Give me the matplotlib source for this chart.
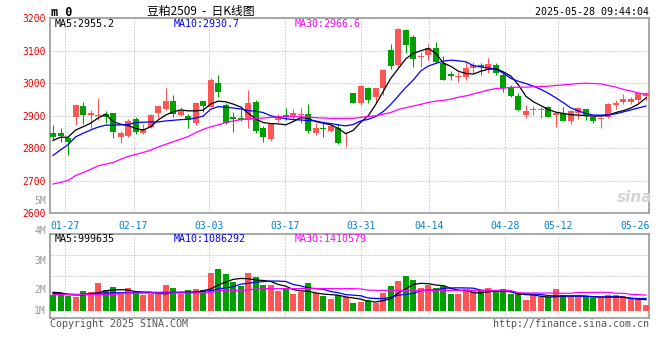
import matplotlib
matplotlib.use('Agg')
import matplotlib.pyplot as plt
import numpy as np

# daily candles, 2025-01-23 .. 2025-05-28
opens = [2847, 2846, 2833, 2897, 2930, 2902, 2898, 2904, 2907, 2836,
         2838, 2889, 2848, 2864, 2907, 2921, 2945, 2902, 2898, 2879,
         2946, 2928, 3002, 2933, 2897, 2894, 2887, 2943, 2863, 2829,
         2887, 2902, 2899, 2902, 2904, 2846, 2861, 2854, 2861, 2827,
         2971, 2938, 2984, 2959, 2984, 3102, 3056, 3164, 3143, 3082,
         3087, 3107, 3063, 3028, 3020, 3020, 3048, 3055, 3041, 3056,
         3025, 2986, 2961, 2902, 2917, 2918, 2926, 2902, 2909, 2885,
         2907, 2920, 2897, 2889, 2895, 2934, 2942, 2942, 2948, 2961]
highs = [2871, 2862, 2834, 2935, 2942, 2918, 2955, 2914, 2907, 2854,
         2891, 2897, 2875, 2905, 2930, 2984, 2964, 2926, 2905, 2943,
         2946, 3017, 3025, 2938, 2913, 2920, 2979, 2948, 2869, 2879,
         2904, 2925, 2920, 2923, 2936, 2877, 2877, 2879, 2875, 2846,
         2971, 2995, 2989, 2986, 3043, 3121, 3169, 3166, 3148, 3097,
         3121, 3128, 3084, 3038, 3036, 3066, 3066, 3063, 3077, 3061,
         3036, 2994, 2969, 2933, 2930, 2926, 2930, 2913, 2926, 2918,
         2926, 2922, 2899, 2897, 2938, 2948, 2967, 2959, 2971, 2973]
lows = [2824, 2820, 2779, 2872, 2875, 2859, 2887, 2879, 2833, 2817,
        2836, 2843, 2844, 2861, 2892, 2918, 2897, 2899, 2863, 2871,
        2912, 2926, 2959, 2876, 2851, 2884, 2861, 2848, 2820, 2823,
        2882, 2887, 2887, 2879, 2848, 2841, 2834, 2851, 2813, 2805,
        2938, 2933, 2938, 2943, 2964, 3043, 3053, 3092, 3051, 3051,
        3071, 3061, 3010, 3010, 3005, 3010, 3030, 3025, 3033, 3025,
        2974, 2959, 2916, 2892, 2902, 2894, 2895, 2864, 2885, 2875,
        2889, 2887, 2879, 2861, 2892, 2920, 2936, 2936, 2940, 2948]
closes = [2835, 2838, 2820, 2933, 2901, 2908, 2899, 2897, 2851, 2846,
          2884, 2849, 2858, 2902, 2929, 2945, 2905, 2914, 2887, 2940,
          2930, 3010, 2974, 2879, 2891, 2887, 2940, 2854, 2836, 2875,
          2899, 2895, 2907, 2904, 2854, 2863, 2858, 2869, 2817, 2830,
          2940, 2993, 2948, 2984, 3041, 3053, 3167, 3118, 3074, 3085,
          3107, 3066, 3010, 3022, 3022, 3046, 3056, 3049, 3059, 3030,
          2984, 2961, 2918, 2916, 2919, 2922, 2897, 2909, 2885, 2916,
          2923, 2899, 2885, 2891, 2936, 2940, 2951, 2952, 2969, 2969]

ma5 = [2824, 2834, 2834, 2856, 2866, 2877, 2893, 2905, 2882, 2874,
       2870, 2861, 2856, 2866, 2887, 2902, 2912, 2918, 2915, 2915,
       2917, 2936, 2945, 2943, 2936, 2927, 2908, 2890, 2879, 2876,
       2875, 2872, 2882, 2894, 2892, 2882, 2877, 2872, 2861, 2845,
       2855, 2880, 2900, 2935, 2975, 3015, 3045, 3075, 3092, 3100,
       3107, 3092, 3062, 3052, 3037, 3030, 3028, 3037, 3043, 3045,
       3035, 3022, 2995, 2960, 2943, 2931, 2919, 2911, 2907, 2903,
       2902, 2900, 2899, 2899, 2902, 2910, 2916, 2924, 2936, 2955]
ma10 = [2778, 2795, 2811, 2835, 2846, 2856, 2865, 2871, 2871, 2872,
        2873, 2879, 2880, 2881, 2881, 2884, 2886, 2888, 2889, 2893,
        2899, 2920, 2928, 2926, 2924, 2921, 2916, 2914, 2910, 2900,
        2895, 2891, 2888, 2887, 2885, 2884, 2879, 2876, 2872, 2869,
        2873, 2884, 2889, 2898, 2913, 2935, 2961, 2987, 3010, 3038,
        3053, 3061, 3068, 3071, 3069, 3066, 3054, 3050, 3047, 3043,
        3031, 3015, 3006, 2999, 2991, 2981, 2969, 2955, 2940, 2924,
        2915, 2907, 2902, 2902, 2903, 2906, 2912, 2918, 2924, 2930]
ma30 = [2690, 2695, 2701, 2716, 2725, 2735, 2746, 2751, 2756, 2766,
        2775, 2781, 2787, 2794, 2804, 2812, 2820, 2828, 2836, 2848,
        2858, 2866, 2872, 2879, 2884, 2888, 2890, 2892, 2893, 2895,
        2896, 2897, 2897, 2897, 2896, 2894, 2893, 2892, 2892, 2892,
        2892, 2895, 2898, 2900, 2905, 2910, 2919, 2925, 2930, 2935,
        2941, 2945, 2947, 2951, 2957, 2961, 2967, 2973, 2979, 2984,
        2985, 2987, 2988, 2988, 2989, 2990, 2991, 2993, 2995, 2997,
        2999, 3000, 2999, 2998, 2993, 2988, 2981, 2976, 2970, 2966]

# volume, millions
volume = [1.42, 1.42, 1.33, 1.27, 1.77, 1.71, 2.50, 1.86, 2.15, 1.57,
          2.06, 1.57, 1.42, 1.53, 1.53, 2.27, 2.00, 1.53, 1.83, 1.92,
          1.83, 3.36, 3.69, 3.24, 2.54, 2.18, 3.33, 2.98, 2.27, 2.27,
          1.77, 2.00, 1.47, 1.65, 2.45, 1.56, 1.30, 1.03, 1.39, 1.21,
          0.68, 0.77, 0.94, 0.68, 1.56, 2.18, 2.63, 3.07, 2.71, 2.00,
          2.27, 2.00, 2.24, 1.47, 1.47, 1.92, 1.74, 1.83, 2.00, 1.83,
          1.92, 1.47, 1.56, 0.94, 1.39, 1.21, 1.21, 1.92, 1.42, 1.33,
          1.33, 1.33, 1.18, 1.18, 1.42, 1.42, 1.33, 1.18, 1.18, 0.53]
vma5 = [1.65, 1.62, 1.45, 1.42, 1.42, 1.55, 1.60, 1.80, 1.86, 1.89,
        1.85, 1.72, 1.68, 1.66, 1.55, 1.52, 1.62, 1.66, 1.65, 1.66,
        1.80, 1.95, 2.30, 2.55, 2.80, 2.88, 2.86, 2.75, 2.70, 2.62,
        2.35, 2.20, 1.90, 1.78, 1.75, 1.60, 1.50, 1.45, 1.40, 1.25,
        1.15, 1.05, 0.85, 0.80, 0.92, 1.10, 1.60, 1.95, 2.35, 2.45,
        2.42, 2.30, 2.25, 2.00, 1.85, 1.80, 1.62, 1.60, 1.70, 1.76,
        1.76, 1.70, 1.50, 1.45, 1.42, 1.30, 1.24, 1.26, 1.30, 1.33,
        1.34, 1.32, 1.26, 1.24, 1.24, 1.26, 1.22, 1.12, 1.06, 1.00]
vma10 = [1.55, 1.53, 1.50, 1.47, 1.47, 1.52, 1.57, 1.59, 1.61, 1.62,
         1.62, 1.62, 1.63, 1.65, 1.65, 1.65, 1.65, 1.65, 1.66, 1.68,
         1.74, 1.80, 1.95, 2.05, 2.15, 2.38, 2.45, 2.55, 2.60, 2.65,
         2.65, 2.62, 2.35, 2.22, 2.05, 1.98, 1.92, 1.72, 1.62, 1.45,
         1.40, 1.35, 1.15, 1.10, 1.10, 1.22, 1.40, 1.47, 1.55, 1.80,
         1.85, 1.88, 2.00, 2.04, 2.05, 2.04, 2.02, 1.85, 1.78, 1.77,
         1.76, 1.72, 1.58, 1.53, 1.50, 1.46, 1.36, 1.34, 1.33, 1.33,
         1.32, 1.30, 1.25, 1.24, 1.24, 1.24, 1.22, 1.12, 1.09, 1.09]
vma30 = [1.45, 1.45, 1.45, 1.45, 1.45, 1.45, 1.45, 1.45, 1.45, 1.55,
         1.59, 1.59, 1.59, 1.59, 1.59, 1.59, 1.59, 1.59, 1.59, 1.59,
         1.59, 1.62, 1.80, 1.83, 1.83, 1.83, 1.85, 1.95, 1.98, 1.98,
         1.98, 1.98, 1.98, 1.98, 1.98, 1.98, 1.98, 1.98, 1.98, 1.98,
         1.98, 1.95, 1.85, 1.83, 1.83, 1.83, 1.83, 1.83, 1.83, 1.83,
         1.83, 1.83, 1.83, 1.83, 1.83, 1.83, 1.83, 1.83, 1.83, 1.83,
         1.83, 1.80, 1.62, 1.59, 1.59, 1.59, 1.59, 1.59, 1.57, 1.57,
         1.65, 1.65, 1.65, 1.65, 1.65, 1.57, 1.57, 1.47, 1.45, 1.41]

date_labels = ['01-27', '02-17', '03-03', '03-17', '03-31', '04-14', '04-28', '05-12', '05-26']
date_idx = [2, 11, 21, 31, 41, 50, 60, 67, 77]
price_ticks = [2600, 2700, 2800, 2900, 3000, 3100, 3200]
vol_labels = ['5M', '4M', '3M', '2M', '1M']

RED = '#ff5555'
GREEN = '#00a000'
GRID = '#aaaaaa'
BORDER = '#999999'
MONO = 'DejaVu Sans Mono'
W, H = 660, 360


def box(l, t, r, b):
    return [l / W, 1 - b / H, (r - l) / W, (b - t) / H]


def style_axes(a):
    for s in a.spines.values():
        s.set_color(BORDER)
        s.set_linewidth(1.2)
    a.tick_params(length=0)


fig = plt.figure(figsize=(6.6, 3.6), dpi=100)
ax = fig.add_axes(box(50, 18.2, 649.3, 213.3))
axv = fig.add_axes(box(50, 234.3, 649.3, 318.3))

x = np.arange(len(closes))
o = np.array(opens)
c = np.array(closes)
cols = np.where(c >= o, RED, GREEN)

# vertical grid lines sit slightly off the candle grid, as in the source
grid_x = [d * 1.0105 - 0.39 for d in date_idx[:-1]]

# ---- price panel
ax.vlines(x, lows, highs, colors=cols, lw=0.75, zorder=2)
ax.bar(x, np.maximum(np.abs(c - o), 3), bottom=np.minimum(o, c), width=0.8,
       color=cols, linewidth=0, zorder=3)
ax.plot(x, ma5, color='black', lw=0.9, zorder=4)
ax.plot(x, ma10, color='#0000ff', lw=0.9, zorder=4)
ax.plot(x, ma30, color='#ff00ff', lw=0.9, zorder=4)

ax.set_xlim(-0.4, 79.44)
ax.set_ylim(2600, 3200)
ax.set_yticks(price_ticks)
ax.set_yticklabels([str(t) for t in price_ticks], color='#ee0000',
                   family=MONO, fontsize=7)
ax.set_xticks(grid_x)
ax.set_xticklabels([])
ax.grid(True, color=GRID, lw=0.72, linestyle=(0, (1, 2)), zorder=0)
ax.tick_params(axis='y', pad=2.8)
style_axes(ax)

for i, lab in enumerate(date_labels):
    if i < len(grid_x):
        ax.text(grid_x[i], -0.04, lab, transform=ax.get_xaxis_transform(),
                ha='center', va='top', color='#0080d0', family=MONO, fontsize=7)
    else:
        ax.text(1.0, -0.04, lab, transform=ax.transAxes,
                ha='right', va='top', color='#0080d0', family=MONO, fontsize=7)

# ---- volume panel
axv.bar(x, volume, width=0.8, color=cols, linewidth=0, zorder=3)
axv.plot(x, vma5, color='black', lw=0.9, zorder=4)
axv.plot(x, vma10, color='#0000ff', lw=0.9, zorder=4)
axv.plot(x, vma30, color='#ff00ff', lw=0.9, zorder=4)
vlo, vhi = -0.646, 6.79
axv.set_xlim(-0.4, 79.44)
axv.set_ylim(vlo, vhi)
axv.set_yticks([vlo + (vhi - vlo) * f for f in (0.25, 0.5, 0.75)])
axv.set_yticklabels([])
axv.set_xticks(grid_x)
axv.set_xticklabels([])
axv.grid(True, color=GRID, lw=0.72, linestyle=(0, (1, 2)), zorder=0)
style_axes(axv)

for lab, ypx in zip(vol_labels, [200.7, 230.7, 261, 290, 310.7]):
    fig.text(46 / W, 1 - ypx / H, lab, ha='right', va='center',
             color='#999999', family=MONO, fontsize=7)

# ---- header / legends
fig.text(51 / W, 1 - 12 / H, 'm 0', ha='left', va='center', family=MONO,
         fontsize=8.5, fontweight='bold')
fig.text(200.5 / W, 1 - 11.5 / H, '豆粕2509  -  日K线图', ha='center', va='center',
         family=['Noto Sans CJK SC', 'DejaVu Sans'], fontsize=8.5)
fig.text(649 / W, 1 - 12 / H, '2025-05-28 09:44:04', ha='right', va='center',
         family=MONO, fontsize=7.2)

for txt, col, xpx in [('MA5:2955.2', 'black', 55), ('MA10:2930.7', '#0000ff', 174),
                      ('MA30:2966.6', '#ff00ff', 295)]:
    fig.text(xpx / W, 1 - 24 / H, txt, color=col, family=MONO, fontsize=7.2,
             ha='left', va='center')
for txt, col, xpx in [('MA5:999635', 'black', 55), ('MA10:1086292', '#0000ff', 174),
                      ('MA30:1410579', '#ff00ff', 295)]:
    fig.text(xpx / W, 1 - 238.5 / H, txt, color=col, family=MONO, fontsize=7.2,
             ha='left', va='center')

fig.text(635 / W, 1 - 197 / H, 'sina', ha='center', va='center', color='#d4d4d4',
         fontsize=11, fontweight='bold', style='italic')

fig.text(50 / W, 1 - 323.7 / H, 'Copyright 2025 SINA.COM', color='#555555',
         family=MONO, fontsize=7.2, ha='left', va='center')
fig.text(649 / W, 1 - 323.7 / H, 'http://finance.sina.com.cn', color='#555555',
         family=MONO, fontsize=7.2, ha='right', va='center')

fig.savefig('out.png', dpi=100, facecolor='white')
